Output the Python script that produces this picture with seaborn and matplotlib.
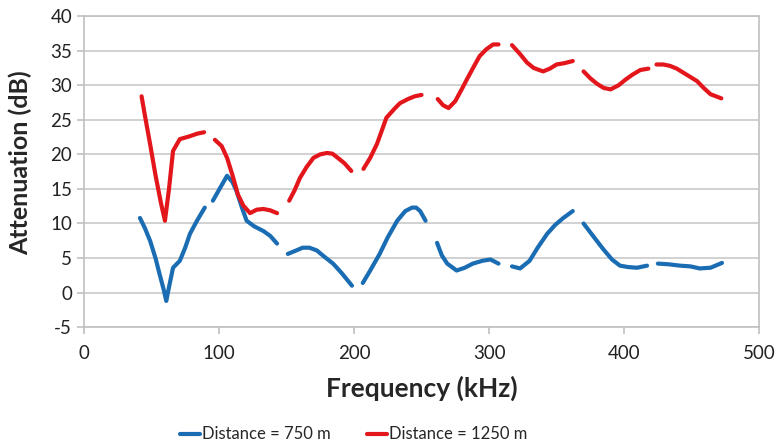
import matplotlib
matplotlib.use('Agg')
import matplotlib.pyplot as plt
import numpy as np
import pandas as pd
import seaborn as sns

# measured segments (gaps between sweeps are kept as separate segments)
freq_750 = [
    [41.5, 45, 49, 53, 56, 59, 61, 63, 66, 71, 75, 78.5, 84, 89.5],
    [95.5, 101, 106, 110, 113, 117, 120.5, 126, 133, 138, 143],
    [151, 156, 162, 167, 172.5, 178, 184.5, 191, 198.5],
    [206.5, 212, 219, 225, 232, 238, 243, 246, 249, 253],
    [261.5, 265, 269, 276, 282, 288, 295, 301, 307],
    [317, 323, 330, 336, 343, 349, 355, 362],
    [370, 377, 384.5, 391, 397, 403, 409.5, 417],
    [425, 433, 441.5, 449, 456, 464, 472.5],
]
att_750 = [
    [10.8, 9.4, 7.5, 5.0, 2.7, 0.5, -1.2, 0.8, 3.6, 4.6, 6.5, 8.5, 10.5, 12.3],
    [13.3, 15.2, 16.9, 16.0, 14.7, 12.3, 10.4, 9.6, 8.9, 8.2, 7.1],
    [5.6, 6.0, 6.5, 6.5, 6.1, 5.2, 4.2, 2.8, 1.0],
    [1.4, 3.2, 5.6, 8.0, 10.4, 11.8, 12.3, 12.3, 11.8, 10.4],
    [7.2, 5.4, 4.2, 3.2, 3.6, 4.2, 4.6, 4.8, 4.2],
    [3.8, 3.5, 4.6, 6.5, 8.5, 9.8, 10.8, 11.8],
    [10.0, 8.2, 6.3, 4.8, 3.9, 3.7, 3.6, 3.9],
    [4.2, 4.1, 3.9, 3.8, 3.5, 3.6, 4.3],
]
freq_1250 = [
    [42.7, 45, 49, 53, 57, 60, 63, 66, 71, 78, 84, 89],
    [97, 102, 106, 110, 114, 118, 123, 128, 133, 138, 143],
    [152, 156, 160, 165, 170, 175, 180, 184, 188, 193, 198],
    [207, 212, 217, 224, 230, 234, 240, 245, 250],
    [262, 266, 270, 275, 280, 284, 289, 293, 298, 303, 307],
    [317, 323, 328, 333, 340, 345, 350, 356, 362],
    [370, 375, 380, 385, 390, 396, 401, 406, 412, 418],
    [424, 429, 434, 439, 444, 449, 454, 459, 464, 472],
]
att_1250 = [
    [28.4, 25.8, 21.5, 17.0, 13.0, 10.4, 15.0, 20.5, 22.2, 22.6, 23.0, 23.2],
    [22.1, 21.2, 19.5, 17.0, 14.2, 12.6, 11.5, 12.0, 12.1, 11.9, 11.5],
    [13.3, 14.8, 16.6, 18.2, 19.5, 20.0, 20.2, 20.1, 19.5, 18.7, 17.6],
    [17.9, 19.5, 21.5, 25.3, 26.6, 27.4, 28.0, 28.4, 28.6],
    [28.0, 27.1, 26.7, 27.7, 29.5, 31.0, 32.8, 34.2, 35.2, 35.9, 35.9],
    [35.8, 34.5, 33.3, 32.5, 32.0, 32.4, 33.0, 33.2, 33.5],
    [32.0, 31.0, 30.2, 29.6, 29.4, 30.0, 30.8, 31.5, 32.2, 32.4],
    [33.0, 33.0, 32.8, 32.4, 31.8, 31.2, 30.6, 29.6, 28.7, 28.1],
]

labels = ['Distance = 750 m', 'Distance = 1250 m']
colors = ['#1b6db3', '#e3161c']

rows = []
for label, freqs, atts in [(labels[0], freq_750, att_750), (labels[1], freq_1250, att_1250)]:
    for seg, (fs, ats) in enumerate(zip(freqs, atts)):
        for f, a in zip(fs, ats):
            rows.append({'Frequency': f, 'Attenuation': a, 'series': label, 'segment': seg})
df = pd.DataFrame(rows)

sns.set_style('white')
plt.rcParams['font.family'] = ['Lato', 'DejaVu Sans']
plt.rcParams['axes.unicode_minus'] = False

fig = plt.figure(figsize=(7.77, 4.47), dpi=100)
ax = fig.add_axes([0.108, 0.268, 0.869, 0.696])

sns.lineplot(data=df, x='Frequency', y='Attenuation', hue='series', units='segment',
             estimator=None, sort=False, palette=colors, hue_order=labels,
             linewidth=3.0, ax=ax, legend=False)

ax.set_xlim(0, 500)
ax.set_ylim(-5, 40)
ax.set_xticks(range(0, 501, 100))
ax.set_yticks(range(-5, 41, 5))
ax.yaxis.grid(True, color='#c9c9c9', linewidth=1.2)
ax.set_axisbelow(True)
for side in ['left', 'bottom', 'right', 'top']:
    ax.spines[side].set_color('#c0c0c0')
    ax.spines[side].set_linewidth(1.2)
ax.tick_params(axis='both', labelsize=13.5, colors='#c0c0c0', labelcolor='#222222',
               length=5, width=1.2, direction='out', bottom=True, left=True)
ax.tick_params(axis='x', pad=8)
ax.set_xlabel('Frequency (kHz)', fontsize=19, fontweight='bold', labelpad=10)
ax.set_ylabel('Attenuation (dB)', fontsize=18, fontweight='bold')
ax.yaxis.set_label_coords(-0.076, 0.53)

handles = [plt.Line2D([], [], color=c, linewidth=3.0) for c in colors]
fig.legend(handles, labels, loc='center', bbox_to_anchor=(0.455, 0.028), ncol=2,
           frameon=False, fontsize=12, handlelength=1.2, handletextpad=0.1,
           columnspacing=2.2)

fig.savefig('out.png', dpi=100)
